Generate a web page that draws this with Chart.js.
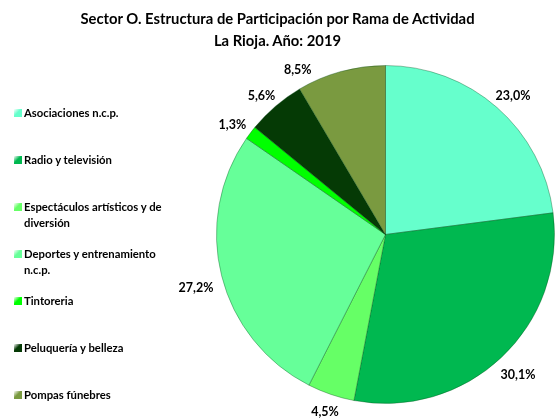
<!DOCTYPE html>
<html>
<head>
  <meta charset="utf-8">
  <title>Sector O. Estructura de Participación por Rama de Actividad</title>
  <style>
    body { margin: 0; background: #fff; }
    #wrap { position: relative; width: 555px; height: 419px; overflow: hidden; font-family: Lato, "Open Sans", sans-serif; }
    #title { position: absolute; left: 0; top: 7px; width: 555px; text-align: center; font-weight: bold; font-size: 14.8px; line-height: 22px; color: #000; }
    #legend { position: absolute; left: 14px; top: 0; }
    .item { position: absolute; left: 0; width: 190px; font-weight: bold; font-size: 11.3px; line-height: 16px; color: #000; white-space: nowrap; }
    .item i { position: absolute; left: 0; top: 4px; width: 8px; height: 8px; }
    .item span { display: block; margin-left: 10px; }
    canvas { position: absolute; left: 0; top: 0; }
  </style>
</head>
<body>
<script src="https://cdn.jsdelivr.net/npm/chart.js@4.4.0/dist/chart.umd.min.js"></script>
<div id="wrap">
  <canvas id="myChart" width="555" height="419"></canvas>
  <div id="title">Sector O. Estructura de Participación por Rama de Actividad<br>La Rioja. Año: 2019</div>
  <div id="legend"></div>
</div>
<script>
  // categories (multi-line where the legend wraps)
  var categories = [
    'Asociaciones n.c.p.',
    'Radio y televisión',
    ['Espectáculos artísticos y de', 'diversión'],
    ['Deportes y entrenamiento', 'n.c.p.'],
    'Tintoreria',
    'Peluquería y belleza',
    'Pompas fúnebres'
  ];
  // share of each branch, %
  var shares = [23.0, 30.1, 4.5, 27.2, 1.3, 5.6, 8.5];
  var colors = ['#66FFCC', '#00B850', '#66FF66', '#66FF99', '#00FF00', '#053A05', '#7A9A40'];

  function fmt(v) {
    return v.toFixed(1).replace('.', ',') + '%';
  }

  // html legend, one row every 47px
  var legend = document.getElementById('legend');
  for (var i = 0; i < categories.length; i++) {
    var lines = Array.isArray(categories[i]) ? categories[i] : [categories[i]];
    var div = document.createElement('div');
    div.className = 'item';
    div.style.top = (105 + i * 47) + 'px';
    div.innerHTML = '<i style="background:linear-gradient(135deg,#fff 0%,' + colors[i] + ' 45%,' + colors[i] + ' 100%);"></i>' +
      '<span>' + lines.join('<br>') + '</span>';
    legend.appendChild(div);
  }

  // percentage labels just outside each slice
  var outsideLabels = {
    id: 'outsideLabels',
    afterDatasetsDraw: function(chart, args, opts) {
      var ctx = chart.ctx;
      var meta = chart.getDatasetMeta(0);
      var data = chart.data.datasets[0].data;
      ctx.save();
      ctx.font = 'bold 12.5px Lato, "Open Sans", sans-serif';
      ctx.fillStyle = '#000';
      ctx.textAlign = 'center';
      ctx.textBaseline = 'middle';
      meta.data.forEach(function(arc, i) {
        var p = arc.getProps(['x', 'y', 'startAngle', 'endAngle', 'outerRadius'], true);
        var mid = (p.startAngle + p.endAngle) / 2;
        var txt = fmt(data[i]);
        var w = ctx.measureText(txt).width;
        var c = Math.cos(mid), s = Math.sin(mid);
        var dist = p.outerRadius + 8 + Math.abs(c) * w / 2 + Math.abs(s) * 6;
        var lx = p.x + c * dist;
        var ly = p.y + s * dist + (s < 0.5 ? 6 : 0);
        if (ly < opts.minY) {
          var dy = opts.minY - p.y;
          var dx = Math.sqrt(Math.max(dist * dist - dy * dy, 0));
          lx = p.x + (c < 0 ? -dx : dx);
          ly = opts.minY;
        }
        ctx.fillText(txt, lx, ly);
      });
      ctx.restore();
    }
  };

  var ctx = document.getElementById('myChart');
  var myChart = new Chart(ctx, {
    type: 'pie',
    data: {
      labels: categories,
      datasets: [{
        data: shares,
        backgroundColor: colors,
        borderColor: 'rgba(0,70,20,0.35)',
        borderWidth: 1
      }]
    },
    options: {
      responsive: false,
      animation: false,
      layout: { padding: { left: 216, right: -4, top: 64, bottom: 14 } },
      plugins: {
        legend: { display: false },
        tooltip: { enabled: false },
        outsideLabels: { minY: 70 }
      }
    },
    plugins: [outsideLabels]
  });
</script>
</body>
</html>
